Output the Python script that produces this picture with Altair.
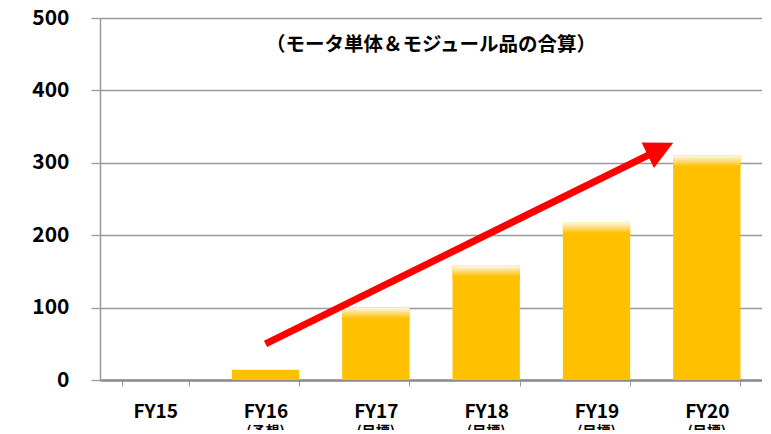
import altair as alt
import pandas as pd

categories = ["FY15", "FY16", "FY17", "FY18", "FY19", "FY20"]
sublabels = ["", "(予想)", "(目標)", "(目標)", "(目標)", "(目標)"]
values = [0, 14, 100, 158, 218, 310]
fade = 18  # height (in data units) of the pale top edge of each bar

arrow_x = [1.5, 5.08]   # position along the category axis (category i centre = i + 0.5)
arrow_y = [50, 319]

title_text = "（モータ単体＆モジュール品の合算）"

FONT = "Noto Sans CJK JP"
GOLD = "#FFC000"

df = pd.DataFrame({"cat": categories, "sub": sublabels, "value": values})
arrow_df = pd.DataFrame({"x": arrow_x, "y": arrow_y})
head_df = arrow_df.iloc[[-1]]

W, H = 662, 362

x_enc = alt.X(
    "cat:N",
    sort=categories,
    scale=alt.Scale(paddingInner=0.39, paddingOuter=0.195),
    axis=alt.Axis(
        title=None, labelAngle=0, labelFont=FONT, labelFontSize=19,
        labelFontWeight="bold", labelColor="#000", labelPadding=16,
        domainColor="#8c8c8c", domainWidth=2.5, tickColor="#9a9a9a",
        tickSize=6, tickWidth=1, tickBand="extent", grid=False,
    ),
)
y_scale = alt.Scale(domain=[0, 500], nice=False)
y_enc = alt.Y(
    "value:Q",
    scale=y_scale,
    axis=alt.Axis(
        title=None, values=[0, 100, 200, 300, 400, 500], labelFont=FONT,
        labelFontSize=21, labelFontWeight="bold", labelColor="#000",
        labelPadding=22, tickSize=9, tickColor="#9a9a9a", tickWidth=1.3,
        domainColor="#9a9a9a", domainWidth=1.5, gridColor="#9a9a9a",
        gridWidth=1.3,
    ),
)

bars = alt.Chart(df).mark_bar(color=GOLD).encode(x=x_enc, y=y_enc)

grad = (
    alt.Chart(df)
    .transform_filter(alt.datum.value > 50)
    .transform_calculate(low=f"datum.value - {fade}")
    .mark_bar(
        color=alt.Gradient(
            gradient="linear", x1=0, x2=0, y1=0, y2=1,
            stops=[alt.GradientStop(color="#FFFAEE", offset=0),
                   alt.GradientStop(color="#FFE08A", offset=0.35),
                   alt.GradientStop(color=GOLD, offset=0.85)],
        )
    )
    .encode(
        x=alt.X("cat:N", sort=categories),
        y=alt.Y("low:Q", scale=y_scale),
        y2="value:Q",
    )
)

subs = alt.Chart(df).mark_text(
    font=FONT, fontSize=14, fontWeight="bold", color="#000", baseline="middle"
).encode(
    x=alt.X("cat:N", sort=categories),
    y=alt.value(H + 52),
    text="sub:N",
)

title = alt.Chart(pd.DataFrame({"t": [title_text]})).mark_text(
    font=FONT, fontSize=19.5, fontWeight="bold", color="#000", baseline="middle"
).encode(x=alt.value(W / 2), y=alt.value(27), text="t:N")

base = alt.layer(bars, grad, subs, title)

qx = alt.Scale(domain=[0, 6], nice=False, zero=False)
arrow_line = alt.Chart(arrow_df).mark_line(
    color="#FF0000", strokeWidth=7, strokeCap="butt"
).encode(
    x=alt.X("x:Q", scale=qx, axis=None),
    y=alt.Y("y:Q", scale=y_scale),
)
arrow_head = alt.Chart(head_df).mark_point(
    shape="M0,-1L1,1L-1,1Z", filled=True, opacity=1, color="#FF0000",
    size=800, angle=64, strokeWidth=0,
).encode(
    x=alt.X("x:Q", scale=qx, axis=None),
    y=alt.Y("y:Q", scale=y_scale),
)

chart = (
    alt.layer(base, arrow_line, arrow_head)
    .resolve_scale(x="independent")
    .properties(
        width=W, height=H,
        autosize=alt.AutoSizeParams(type="none"),
        padding={"left": 92, "top": 10, "right": 0, "bottom": 50},
        background="#ffffff",
    )
    .configure_view(stroke=None)
)

chart.save("out.html", embed_options={"renderer": "svg", "actions": False})
